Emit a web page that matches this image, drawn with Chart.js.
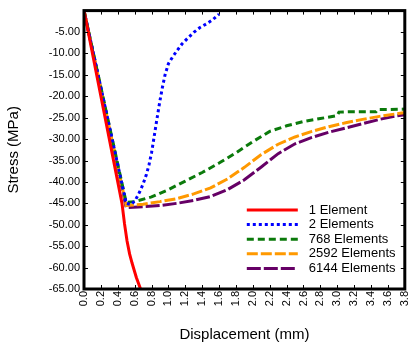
<!DOCTYPE html>
<html>
<head>
<meta charset="utf-8">
<script src="https://cdn.jsdelivr.net/npm/chart.js@4.4.1/dist/chart.umd.min.js"></script>
<style>
  html, body { margin: 0; padding: 0; background: #fff; }
  #wrap { width: 420px; height: 344px; }
</style>
</head>
<body>
<div id="wrap"><canvas id="chart" width="420" height="344"></canvas></div>
<script>
// series names
const seriesNames = ["1 Element", "2 Elements", "768 Elements", "2592 Elements", "6144 Elements"];

// 1 Element
const x1 = [0, 0.45, 0.48, 0.51, 0.54, 0.57, 0.62, 0.67];
const y1 = [0, -45, -49.8, -53.8, -56.8, -59, -62.3, -65];

// 2 Elements
const x2 = [0, 0.5, 0.56, 0.61, 0.66, 0.7, 0.74, 0.77, 0.8, 0.82, 0.84, 0.86, 0.88, 0.9, 0.93, 0.96, 1.0, 1.05, 1.1, 1.16, 1.22, 1.3, 1.37, 1.45, 1.52, 1.6];
const y2 = [0, -45, -45.3, -44.2, -42.3, -40.5, -38.2, -36, -33.2, -30.8, -28.3, -25.8, -23.4, -21, -17.8, -15, -12.4, -10.8, -9.4, -7.8, -6.6, -5.1, -4, -3.1, -2.2, -0.8];

// 768 Elements
const x3 = [0, 0.5, 0.6, 0.8, 1.0, 1.2, 1.4, 1.6, 1.8, 2.0, 2.2, 2.4, 2.6, 2.8, 3.0, 3.02, 3.2, 3.46, 3.48, 3.6, 3.8];
const y3 = [0, -44.8, -44.6, -43.5, -41.8, -39.8, -37.8, -35.6, -33.2, -30.6, -28.2, -26.9, -25.9, -25.2, -24.5, -23.7, -23.6, -23.6, -23.1, -23.1, -23.0];

// 2592 Elements
const x4 = [0, 0.5, 0.7, 0.9, 1.1, 1.3, 1.5, 1.7, 1.9, 2.1, 2.3, 2.5, 2.7, 2.9, 3.1, 3.3, 3.5, 3.7, 3.8];
const y4 = [0, -45.5, -45.2, -44.6, -43.9, -42.8, -41.4, -39.3, -36.6, -33.6, -31.2, -29.5, -28.2, -27.1, -26.2, -25.4, -24.7, -24.1, -23.8];

// 6144 Elements
const x5 = [0, 0.5, 0.7, 0.9, 1.1, 1.3, 1.5, 1.7, 1.9, 2.1, 2.3, 2.5, 2.7, 2.9, 3.1, 3.3, 3.5, 3.7, 3.8];
const y5 = [0, -46, -45.8, -45.5, -45, -44.3, -43.4, -41.8, -39.5, -36.5, -33.4, -31.1, -29.6, -28.4, -27.4, -26.4, -25.4, -24.6, -24.3];

// axis ticks
const xTicks = { min: 0, max: 3.8, step: 0.2 };
const yTicks = { min: -65, max: 0, step: 5 };

const FONT = "'Liberation Sans', Arial, sans-serif";

function pts(xs, ys) {
    return xs.map((x, i) => ({ x: x, y: ys[i] }));
}

const styles = [
    { color: "#ff0000", dash: [] },
    { color: "#0000ff", dash: [3, 3] },
    { color: "#0b7a0b", dash: [7, 4] },
    { color: "#ff9900", dash: [11, 3] },
    { color: "#660066", dash: [14, 3] }
];

const allX = [x1, x2, x3, x4, x5];
const allY = [y1, y2, y3, y4, y5];

const datasets = seriesNames.map((name, i) => ({
    label: name,
    data: pts(allX[i], allY[i]),
    borderColor: styles[i].color,
    borderDash: styles[i].dash,
    borderWidth: 3,
    pointRadius: 0,
    fill: false,
    tension: 0
}));

// frame + inward tick marks + legend in the plot
const framePlugin = {
    id: "frame",
    afterDraw(chart) {
        const ctx = chart.ctx;
        const a = chart.chartArea;
        const xs = chart.scales.x, ys = chart.scales.y;
        ctx.save();
        ctx.strokeStyle = "#000";
        ctx.lineWidth = 1;
        xs.ticks.forEach(t => {
            const px = Math.round(xs.getPixelForValue(t.value)) + 0.5;
            ctx.beginPath();
            ctx.moveTo(px, a.bottom); ctx.lineTo(px, a.bottom - 4);
            ctx.moveTo(px, a.top); ctx.lineTo(px, a.top + 4);
            ctx.stroke();
        });
        ys.ticks.forEach(t => {
            const py = Math.round(ys.getPixelForValue(t.value)) + 0.5;
            ctx.beginPath();
            ctx.moveTo(a.left, py); ctx.lineTo(a.left + 4, py);
            ctx.moveTo(a.right, py); ctx.lineTo(a.right - 4, py);
            ctx.stroke();
        });
        ctx.lineWidth = 3;
        ctx.strokeRect(a.left, a.top, a.right - a.left, a.bottom - a.top);

        const lx = a.right - 158;
        const ly = a.bottom - 79;
        ctx.font = "13px " + FONT;
        ctx.textBaseline = "middle";
        ctx.fillStyle = "#000";
        chart.data.datasets.forEach((d, i) => {
            const y = ly + i * 14.6;
            ctx.beginPath();
            ctx.lineWidth = 3;
            ctx.strokeStyle = d.borderColor;
            ctx.setLineDash(d.borderDash);
            ctx.moveTo(lx, y); ctx.lineTo(lx + 51, y);
            ctx.stroke();
            ctx.setLineDash([]);
            ctx.fillText(d.label, lx + 62, y);
        });
        ctx.restore();
    }
};

const ctx = document.getElementById("chart").getContext("2d");

new Chart(ctx, {
    type: "line",
    data: { datasets: datasets },
    plugins: [framePlugin],
    options: {
        responsive: false,
        animation: false,
        layout: { padding: { top: 7, right: 12, left: 5, bottom: 0 } },
        plugins: {
            legend: { display: false },
            tooltip: { enabled: false }
        },
        scales: {
            x: {
                type: "linear",
                min: xTicks.min,
                max: xTicks.max,
                grid: { display: false, drawTicks: false },
                border: { display: false },
                ticks: {
                    stepSize: xTicks.step,
                    autoSkip: false,
                    maxRotation: 90,
                    minRotation: 90,
                    padding: 2,
                    color: "#000",
                    font: { family: FONT, size: 11 },
                    callback: v => Number(v).toFixed(1)
                },
                title: {
                    display: true,
                    text: "Displacement (mm)",
                    color: "#000",
                    font: { family: FONT, size: 15 },
                    padding: { top: 8, bottom: 0 }
                },
                afterFit(scale) { scale.height = 55; }
            },
            y: {
                type: "linear",
                min: yTicks.min,
                max: yTicks.max,
                grid: { display: false, drawTicks: false },
                border: { display: false },
                ticks: {
                    stepSize: yTicks.step,
                    padding: 4,
                    color: "#000",
                    font: { family: FONT, size: 11 },
                    callback: v => (v === 0 ? "" : Number(v).toFixed(2))
                },
                title: {
                    display: true,
                    text: "Stress (MPa)",
                    color: "#000",
                    font: { family: FONT, size: 15 },
                    padding: { top: 0, bottom: 0 }
                },
                afterFit(scale) { scale.width = 79; }
            }
        }
    }
});
</script>
</body>
</html>
